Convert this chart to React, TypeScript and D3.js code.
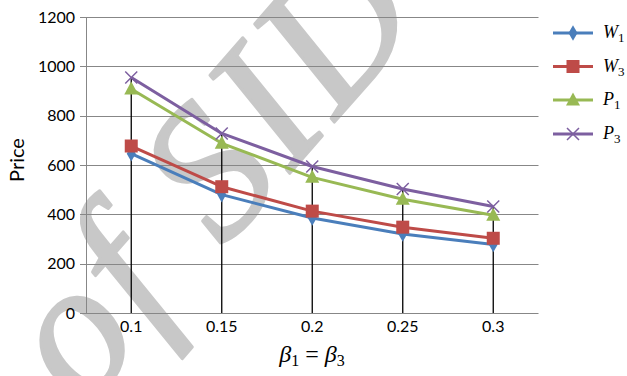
import { useEffect, useRef } from "react";
import * as d3 from "d3";

const CATEGORIES = ["0.1", "0.15", "0.2", "0.25", "0.3"];
const W1 = [646, 480, 385, 320, 278];
const W3 = [677, 512, 413, 348, 303];
const P1 = [908, 688, 550, 461, 396];
const P3 = [955, 728, 594, 503, 432];
const Y_TICKS = [0, 200, 400, 600, 800, 1000, 1200];

const SERIES = [
  { key: "W", sub: "1", values: W1, color: "#4a7ebb", marker: "diamond" },
  { key: "W", sub: "3", values: W3, color: "#be4b48", marker: "square" },
  { key: "P", sub: "1", values: P1, color: "#98b954", marker: "triangle" },
  { key: "P", sub: "3", values: P3, color: "#7d5fa0", marker: "cross" },
];

function drawMarker(g: d3.Selection<SVGGElement, unknown, null, undefined>, kind: string, cx: number, cy: number, color: string) {
  if (kind === "diamond") {
    g.append("path").attr("d", d3.symbol(d3.symbolDiamond, 70)()).attr("transform", `translate(${cx},${cy})`).attr("fill", color);
  } else if (kind === "square") {
    g.append("rect").attr("x", cx - 6.5).attr("y", cy - 6.5).attr("width", 13).attr("height", 13).attr("fill", color);
  } else if (kind === "triangle") {
    g.append("path").attr("d", `M${cx},${cy - 7.5}L${cx + 7},${cy + 5.5}L${cx - 7},${cy + 5.5}Z`).attr("fill", color);
  } else {
    g.append("path").attr("d", `M${cx - 6},${cy - 6}L${cx + 6},${cy + 6}M${cx - 6},${cy + 6}L${cx + 6},${cy - 6}`)
      .attr("stroke", color).attr("stroke-width", 1.5).attr("fill", "none");
  }
}

export default function App() {
  const ref = useRef<HTMLDivElement>(null);

  useEffect(() => {
    if (!ref.current) return;
    document.body.style.margin = "0";
    const container = ref.current;
    d3.select(container).select("svg").remove();

    const width = 627;
    const height = 376;
    const marginTop = 17;
    const marginLeft = 86;
    const plotRight = 538.5;
    const plotBottom = 313;

    const x = d3.scalePoint().domain(CATEGORIES).range([marginLeft, plotRight]).padding(0.5);
    const y = d3.scaleLinear().domain([0, 1200]).range([plotBottom, marginTop]);

    const svg = d3.create("svg")
      .attr("width", width)
      .attr("height", height)
      .attr("viewBox", [0, 0, width, height])
      .attr("style", "display:block;background:#fff;");

    // watermark
    svg.append("text")
      .attr("transform", "translate(84,410) rotate(-49)")
      .attr("font-family", "Liberation Serif, serif")
      .attr("font-style", "italic")
      .attr("font-size", 190)
      .attr("letter-spacing", 6)
      .attr("fill", "#c8c8c8")
      .attr("stroke", "#c8c8c8")
      .attr("stroke-width", 3)
      .attr("stroke-linejoin", "round")
      .text("of SID");

    // gridlines
    svg.append("g")
      .attr("stroke", "#878787")
      .attr("stroke-width", 1)
      .selectAll("line")
      .data(Y_TICKS)
      .join("line")
        .attr("x1", marginLeft - 6)
        .attr("x2", plotRight)
        .attr("y1", d => Math.round(y(d)) + 0.5)
        .attr("y2", d => Math.round(y(d)) + 0.5);

    svg.append("line")
      .attr("x1", marginLeft + 0.5).attr("x2", marginLeft + 0.5)
      .attr("y1", marginTop).attr("y2", plotBottom)
      .attr("stroke", "#878787");

    // y labels
    svg.append("g")
      .attr("font-family", "Lato")
      .attr("font-size", 16)
      .attr("fill", "#000")
      .attr("text-anchor", "end")
      .selectAll("text")
      .data(Y_TICKS)
      .join("text")
        .attr("x", 75)
        .attr("y", d => y(d))
        .attr("dy", "0.36em")
        .text(d => String(d));

    // x labels
    svg.append("g")
      .attr("font-family", "Lato")
      .attr("font-size", 16)
      .attr("fill", "#000")
      .attr("text-anchor", "middle")
      .selectAll("text")
      .data(CATEGORIES)
      .join("text")
        .attr("x", d => x(d) ?? 0)
        .attr("y", 332)
        .text(d => d);

    // drop lines
    const maxVals = CATEGORIES.map((_, i) => d3.max(SERIES, s => s.values[i]) ?? 0);
    svg.append("g")
      .attr("stroke", "#000")
      .attr("stroke-width", 1.3)
      .selectAll("line")
      .data(CATEGORIES)
      .join("line")
        .attr("x1", d => x(d) ?? 0)
        .attr("x2", d => x(d) ?? 0)
        .attr("y1", (_, i) => y(maxVals[i]))
        .attr("y2", plotBottom);

    // series
    const line = d3.line<number>()
      .x((_, i) => x(CATEGORIES[i]) ?? 0)
      .y(d => y(d));

    for (const s of SERIES) {
      const g = svg.append("g");
      g.append("path")
        .attr("d", line(s.values))
        .attr("fill", "none")
        .attr("stroke", s.color)
        .attr("stroke-width", 3)
        .attr("stroke-linejoin", "round");
      s.values.forEach((v, i) => drawMarker(g, s.marker, x(CATEGORIES[i]) ?? 0, y(v), s.color));
    }

    // axis titles
    svg.append("text")
      .attr("transform", "translate(24,160) rotate(-90)")
      .attr("text-anchor", "middle")
      .attr("font-family", "Lato")
      .attr("font-size", 20)
      .attr("fill", "#000")
      .text("Price");

    const xt = svg.append("text")
      .attr("x", 312)
      .attr("y", 362)
      .attr("text-anchor", "middle")
      .attr("font-family", "Liberation Serif")
      .attr("font-size", 24)
      .attr("fill", "#000");
    xt.append("tspan").attr("font-style", "italic").text("β");
    xt.append("tspan").attr("font-size", 16).attr("dy", 4).text("1");
    xt.append("tspan").attr("dy", -4).text(" = ");
    xt.append("tspan").attr("font-style", "italic").text("β");
    xt.append("tspan").attr("font-size", 16).attr("dy", 4).text("3");

    // legend
    const legendY = [33, 66.5, 100, 134];
    SERIES.forEach((s, i) => {
      const g = svg.append("g");
      const ly = legendY[i];
      g.append("line")
        .attr("x1", 553).attr("x2", 593)
        .attr("y1", ly).attr("y2", ly)
        .attr("stroke", s.color).attr("stroke-width", 3);
      drawMarker(g, s.marker, 573, ly, s.color);
      const t = g.append("text")
        .attr("x", 603)
        .attr("y", ly + 5)
        .attr("font-family", "Liberation Serif")
        .attr("font-size", 18)
        .attr("fill", "#000");
      t.append("tspan").attr("font-style", "italic").text(s.key);
      t.append("tspan").attr("font-size", 13).attr("dy", 4).text(s.sub);
    });

    container.append(svg.node()!);
  }, []);

  return <div ref={ref} />;
}
